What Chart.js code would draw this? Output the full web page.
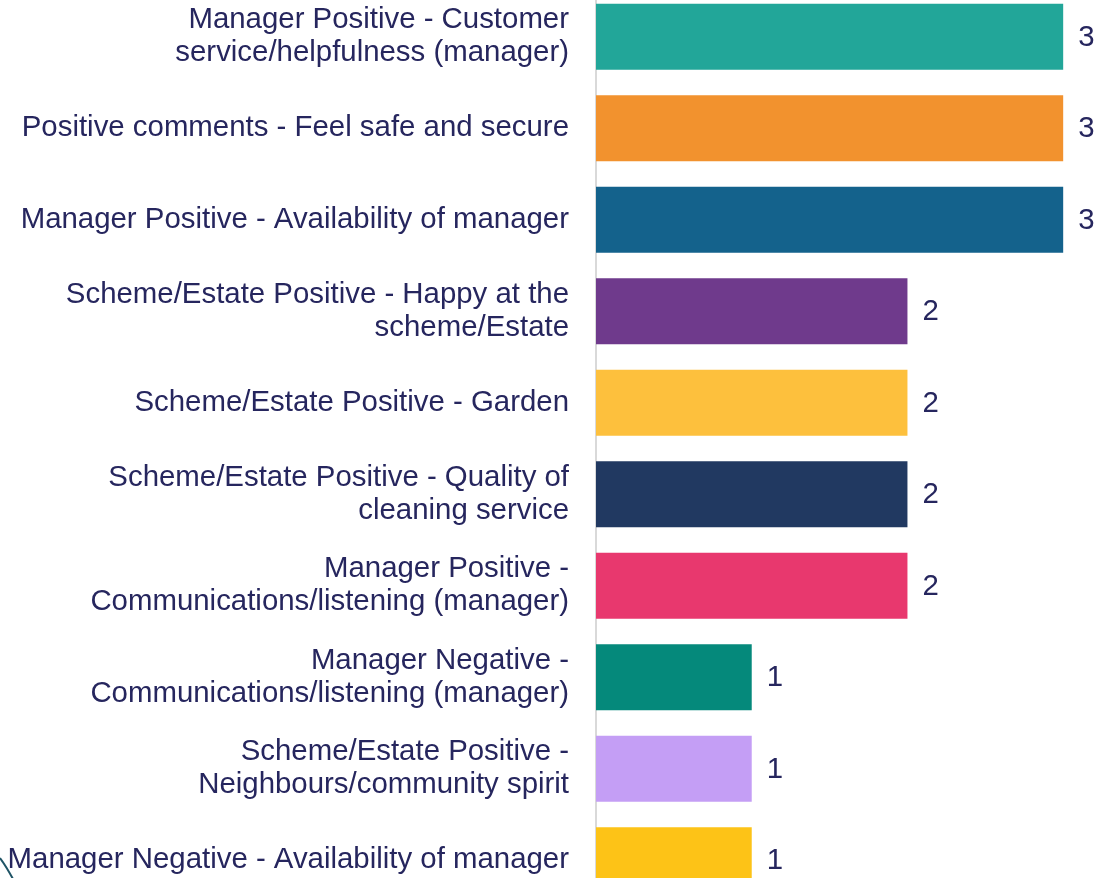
<!DOCTYPE html>
<html lang="en">
<head>
  <meta charset="UTF-8" />
  <title>Comments</title>
  <style>
    html, body {
      margin: 0;
      padding: 0;
      background: #ffffff;
      overflow: hidden;
    }
    #wrap {
      position: relative;
      width: 1099px;
      height: 878px;
      overflow: hidden;
    }
    #box {
      position: absolute;
      left: 0;
      top: -9px;
      width: 1099px;
      height: 915px;
    }
  </style>
</head>
<body>
  <div id="wrap">
    <div id="box"><canvas id="chart"></canvas></div>
  </div>

  <script src="https://cdn.jsdelivr.net/npm/chart.js"></script>
  <script>
    const categories = [
      ['Manager Positive - Customer', 'service/helpfulness (manager)'],
      'Positive comments - Feel safe and secure',
      'Manager Positive - Availability of manager',
      ['Scheme/Estate Positive - Happy at the', 'scheme/Estate'],
      'Scheme/Estate Positive - Garden',
      ['Scheme/Estate Positive - Quality of', 'cleaning service'],
      ['Manager Positive -', 'Communications/listening (manager)'],
      ['Manager Negative -', 'Communications/listening (manager)'],
      ['Scheme/Estate Positive -', 'Neighbours/community spirit'],
      'Manager Negative - Availability of manager'
    ];
    const counts = [3, 3, 3, 2, 2, 2, 2, 1, 1, 1];
    const barColors = [
      '#22a699', '#f2922e', '#14628c', '#6f3a8c', '#fdc03d',
      '#213961', '#e8386e', '#05897b', '#c49ef5', '#fdc317'
    ];

    const textColor = '#26265e';
    const fontFamily = '"Liberation Sans", Arial, sans-serif';

    // value labels at the end of each bar, plus the little corner stroke
    const valueLabels = {
      id: 'valueLabels',
      afterDatasetsDraw(chart) {
        const ctx = chart.ctx;
        const meta = chart.getDatasetMeta(0);
        ctx.save();
        ctx.font = '29.4px ' + fontFamily;
        ctx.fillStyle = textColor;
        ctx.textAlign = 'left';
        ctx.textBaseline = 'middle';
        meta.data.forEach((bar, i) => {
          ctx.fillText(String(counts[i]), bar.x + 15, bar.y + 1);
        });
        ctx.strokeStyle = '#1f5466';
        ctx.lineWidth = 2;
        ctx.beginPath();
        ctx.moveTo(0, 867);
        ctx.quadraticCurveTo(6, 875, 13, 888);
        ctx.stroke();
        ctx.restore();
      }
    };

    new Chart(document.getElementById('chart'), {
      type: 'bar',
      data: {
        labels: categories,
        datasets: [{
          data: counts,
          backgroundColor: barColors,
          borderWidth: 0,
          barPercentage: 0.72,
          categoryPercentage: 1
        }]
      },
      options: {
        indexAxis: 'y',
        responsive: true,
        maintainAspectRatio: false,
        animation: false,
        layout: { padding: 0 },
        plugins: {
          legend: { display: false },
          tooltip: { enabled: false }
        },
        scales: {
          x: {
            display: false,
            min: 0,
            max: 3.23
          },
          y: {
            afterFit: (scale) => {
              scale.width = 596;
              scale.paddingTop = 0;
              scale.paddingBottom = 0;
            },
            grid: { display: false, drawTicks: false },
            border: { display: true, color: '#d9d9d9', width: 2 },
            ticks: {
              padding: 27,
              color: textColor,
              font: { family: fontFamily, size: 29.4, lineHeight: 1.13 }
            }
          }
        }
      },
      plugins: [valueLabels]
    });
  </script>
</body>
</html>
